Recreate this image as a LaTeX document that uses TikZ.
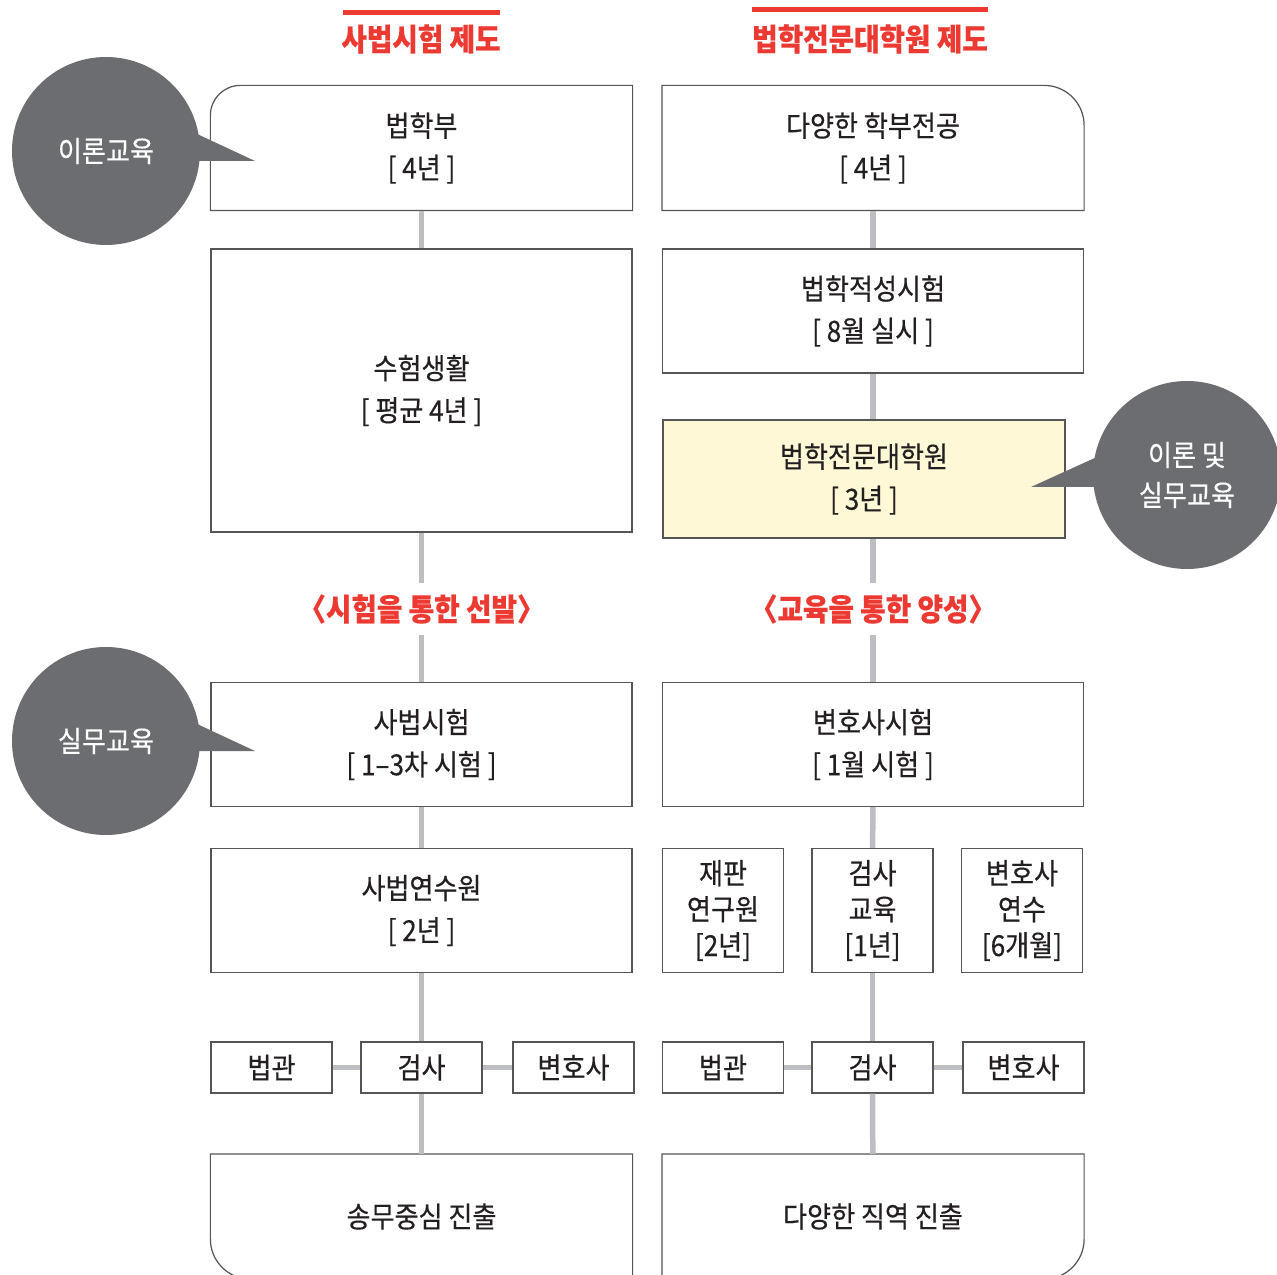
\documentclass[tikz,border=0pt]{standalone}
\usepackage{fontspec}
\setmainfont{Noto Sans CJK KR}[FakeStretch=0.9, FakeBold=0.4]
\definecolor{boxline}{HTML}{555555}
\definecolor{linkgray}{HTML}{BDBEC1}
\definecolor{bubgray}{HTML}{6C6D71}
\definecolor{titlered}{HTML}{EC3A32}
\definecolor{paleyellow}{HTML}{FFF8D6}
\definecolor{ink}{HTML}{231F20}

\begin{document}
\begin{tikzpicture}[x=0.2mm, y=-0.2mm,
    box/.style={draw=boxline, line width=0.7pt, fill=white, text=ink, minimum width=84.2mm, minimum height=24.8mm, inner sep=0pt, align=center, font=\fontsize{16.5}{24}\selectfont},
    sbox/.style={box, minimum width=24.2mm, font=\fontsize{16.5}{20.5}\selectfont},
    rowbox/.style={box, minimum width=24.2mm, minimum height=10.2mm},
    bubble/.style={circle, fill=bubgray, text=white, minimum size=37.6mm, inner sep=0pt, align=center, font=\fontsize{16.5}{22.8}\selectfont},
    heading/.style={text=titlered, font=\fontsize{17.5}{18}\selectfont\bfseries, inner sep=0pt},
    stage/.style={heading, minimum height=10.4mm},
    link/.style={draw=linkgray, line width=1.1mm}]
    \useasboundingbox (0,0) rectangle (1277,1275);
    \clip (0,0) rectangle (1277,1275);

    % headings
    \fill[titlered] (343,10) rectangle (500,15);
    \fill[titlered] (752,7) rectangle (988,12);
    \node[heading] (leftttl) at (421,39) {사법시험 제도};
    \node[heading] (rightttl) at (870,39) {법학전문대학원 제도};

    % bar exam system
    \node[box, draw=none] (lawdept) at (421.5,148) {법학부\\{[} 4년 ]};
    \draw[boxline, line width=0.7pt] (lawdept.south west) -- ([yshift=-6mm]lawdept.north west) arc[start angle=180, end angle=90, radius=6mm] -- (lawdept.north east) -- (lawdept.south east) -- cycle;
    \node[box, minimum height=56.6mm] (prep) at (421.5,390.5) {수험생활\\{[} 평균 4년 ]};
    \node[stage] (select) at (421.5,609) {〈시험을 통한 선발〉};
    \node[box] (barexam) at (421.5,744.5) {사법시험\\{[} 1–3차 시험 ]};
    \node[box] (institute) at (421.5,910.5) {사법연수원\\{[} 2년 ]};
    \node[rowbox] (ljudge) at (271.5,1067.5) {법관};
    \node[rowbox] (lprosec) at (421.5,1067.5) {검사};
    \node[rowbox] (llawyer) at (573.5,1067.5) {변호사};
    \node[box, draw=none] (lcareer) at (421.5,1216.5) {송무중심 진출};
    \draw[boxline, line width=0.7pt] (lcareer.north west) -- ([yshift=8mm]lcareer.south west) arc[start angle=180, end angle=270, radius=8mm] -- (lcareer.south east) -- (lcareer.north east) -- cycle;

    % law school system
    \node[box, draw=none] (major) at (873,148) {다양한 학부전공\\{[} 4년 ]};
    \draw[boxline, line width=0.7pt] (major.south west) -- (major.north west) -- ([xshift=-8mm]major.north east) arc[start angle=90, end angle=0, radius=8mm] -- (major.south east) -- cycle;
    \node[box] (leet) at (873,311) {법학적성시험\\{[} 8월 실시 ]};
    \node[box, fill=paleyellow, minimum width=80.4mm, minimum height=23.6mm] (school) at (864,479) {법학전문대학원\\{[} 3년 ]};
    \node[stage] (train) at (873,609) {〈교육을 통한 양성〉};
    \node[box] (lawyerexam) at (873,744.5) {변호사시험\\{[} 1월 시험 ]};
    \node[sbox] (clerk) at (723,910.5) {재판\\연구원\\{[}2년]};
    \node[sbox] (proseced) at (872.5,910.5) {검사\\교육\\{[}1년]};
    \node[sbox] (lawyered) at (1022,910.5) {변호사\\연수\\{[}6개월]};
    \node[rowbox] (rjudge) at (723,1067.5) {법관};
    \node[rowbox] (rprosec) at (872.5,1067.5) {검사};
    \node[rowbox] (rlawyer) at (1023.5,1067.5) {변호사};
    \node[box, draw=none] (rcareer) at (873,1216.5) {다양한 직역 진출};
    \draw[boxline, line width=0.7pt] (rcareer.north west) -- (rcareer.south west) -- ([xshift=-8mm]rcareer.south east) arc[start angle=270, end angle=360, radius=8mm] -- (rcareer.north east) -- cycle;

    % links
    \draw[link] (lawdept) -- (prep);
    \draw[link] (prep) -- (select);
    \draw[link] (select) -- (barexam);
    \draw[link] (barexam) -- (institute);
    \draw[link] (institute) -- (lprosec);
    \draw[link] (ljudge) -- (lprosec);
    \draw[link] (lprosec) -- (llawyer);
    \draw[link] (lprosec) -- (lcareer);
    \draw[link] (major) -- (leet);
    \draw[link] (leet) -- (leet.south |- school.north);
    \draw[link] (school.south -| train.north) -- (train);
    \draw[link] (train) -- (lawyerexam);
    \draw[link] (lawyerexam) -- (proseced);
    \draw[link] (proseced) -- (rprosec);
    \draw[link] (rjudge) -- (rprosec);
    \draw[link] (rprosec) -- (rlawyer);
    \draw[link] (rprosec) -- (rcareer);

    % bubbles
    \node[bubble] (theory) at (106,151) {이론교육};
    \fill[bubgray] (180,126) -- (255,161) -- (180,161) -- cycle;
    \node[bubble] (practice) at (106,741) {실무교육};
    \fill[bubgray] (180,716) -- (255,751) -- (180,751) -- cycle;
    \node[bubble] (both) at (1187,475) {이론 및\\실무교육};
    \fill[bubgray] (1110,451) -- (1031,487) -- (1110,487) -- cycle;
\end{tikzpicture}
\end{document}
